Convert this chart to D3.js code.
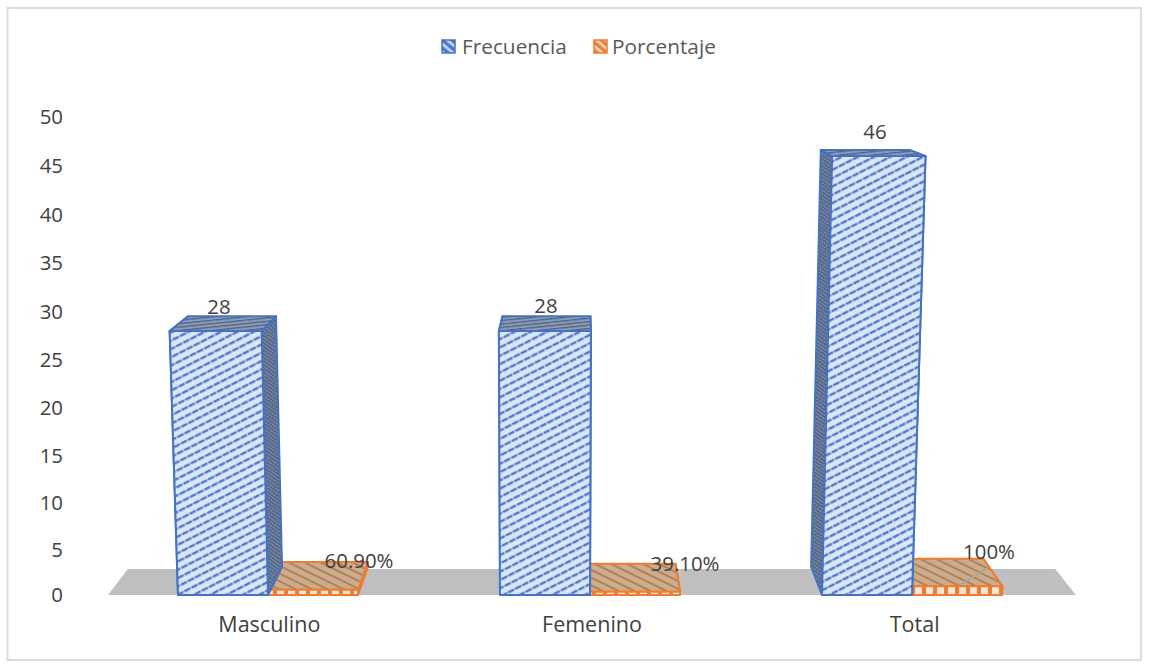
<!DOCTYPE html>
<html>
<head>
<meta charset="utf-8">
<script src="https://cdn.jsdelivr.net/npm/d3@7"></script>
<style>
  html, body { margin: 0; padding: 0; background: #fff; }
  svg { display: block; }
  text { font-family: "Open Sans", sans-serif; font-size: 20.4px; fill: #404040; }
</style>
</head>
<body>
<svg id="chart" width="1149" height="666"></svg>
<script>
const categories = ["Masculino", "Femenino", "Total"];
const seriesNames = ["Frecuencia", "Porcentaje"];
const frecuencia = [28, 28, 46];
const porcentaje = [0.609, 0.391, 1];
const frecuenciaLabels = ["28", "28", "46"];
const porcentajeLabels = ["60.90%", "39.10%", "100%"];
const yTicks = [0, 5, 10, 15, 20, 25, 30, 35, 40, 45, 50];

const svg = d3.select("#chart");
const BLUE = "#4472c4", ORANGE = "#ed7d31";

// Slight power curve stands in for the perspective foreshortening of the 3-D axis
const y = d3.scalePow().exponent(1.024).domain([0, 50]).range([595, 117]);
const axisX = d3.scaleBand().domain(categories).range([108, 1076]);
const groupX = d3.scaleBand().domain(categories).range([107, 1073]);
const barWidth = 90;

// Perspective projection: x on the front plane, h pixels above the floor, d = 0 front .. 1 back
const VANISH_X = 580, LEAN = 8.5e-5;
function project(xBase, h, d) {
  const leaned = xBase + (xBase - 550) * LEAN * h;
  return [
    leaned + (VANISH_X - leaned) * 0.045 * d,
    595 - 28 * d - h * (1 - 0.05 * d)
  ];
}

// Hatch patterns for the bar faces
const defs = svg.append("defs");
function hatch(id, w, h, angle, bg, draw) {
  const p = defs.append("pattern").attr("id", id)
    .attr("patternUnits", "userSpaceOnUse")
    .attr("width", w).attr("height", h)
    .attr("patternTransform", `rotate(${angle})`);
  p.append("rect").attr("width", w).attr("height", h).attr("fill", bg);
  draw(p);
}
hatch("blueFront", 8, 7.4, -27, "#dbe7f9", p => {
  p.append("rect").attr("x", 0).attr("y", 2.6).attr("width", 6.4).attr("height", 2.4).attr("fill", "#4f78c6");
  p.append("rect").attr("x", 6.4).attr("y", 3).attr("width", 1.6).attr("height", 1.4).attr("fill", "#8aa6dc");
});
hatch("blueSide", 3, 3, 35, "#7f8fa8", p => {
  p.append("rect").attr("width", 3).attr("height", 1.3).attr("fill", "#46597c");
  p.append("rect").attr("width", 1).attr("height", 3).attr("fill", "#5b6d90");
});
hatch("blueTop", 6, 3.4, -6, "#8d9cb4", p => {
  p.append("rect").attr("width", 6).attr("height", 1.3).attr("fill", "#4f6288");
});
hatch("orangeTop", 8, 7, 26, "#c9ad92", p => {
  p.append("rect").attr("width", 8).attr("height", 2).attr("fill", "#b9804e");
});
hatch("orangeFront", 11, 8, 0, ORANGE, p => {
  p.append("rect").attr("x", 2).attr("y", 0).attr("width", 7).attr("height", 8).attr("fill", "#fbe5d6");
});
hatch("blueKey", 6, 6, 40, "#4f78c6", p => {
  p.append("rect").attr("width", 6).attr("height", 2.6).attr("fill", "#c9d8f2");
});
hatch("orangeKey", 6, 6, 40, ORANGE, p => {
  p.append("rect").attr("width", 6).attr("height", 2.6).attr("fill", "#fad9c2");
});

// Outer chart frame
svg.append("rect").attr("x", 7.5).attr("y", 8).attr("width", 1133.5).attr("height", 652)
  .attr("fill", "#fff").attr("stroke", "#dcdcdc").attr("stroke-width", 2);

// Floor plane
const floorDepth = 0.93;
const floorLeft = axisX.range()[0], floorRight = axisX.range()[1];
svg.append("polygon").attr("fill", "#bfbfbf").attr("points", [
  project(floorLeft, 0, 0), project(floorRight, 0, 0),
  project(floorRight, 0, floorDepth), project(floorLeft, 0, floorDepth)
].map(p => p.join(",")).join(" "));

// One 3-D bar: hidden faces sit behind the front and top, so only the outward side remains visible
function drawBar(g, x0, value, color, fills) {
  const x1 = x0 + barWidth, h = 595 - y(value);
  const poly = (pts, fill) => g.append("polygon")
    .attr("points", pts.map(p => p.join(",")).join(" "))
    .attr("fill", fill).attr("stroke", color).attr("stroke-width", 2).attr("stroke-linejoin", "round");
  poly([project(x0, 0, 0), project(x0, h, 0), project(x0, h, 1), project(x0, 0, 1)], fills.side);
  poly([project(x1, 0, 0), project(x1, h, 0), project(x1, h, 1), project(x1, 0, 1)], fills.side);
  poly([project(x0, h, 0), project(x1, h, 0), project(x1, h, 1), project(x0, h, 1)], fills.top);
  poly([project(x0, 0, 0), project(x1, 0, 0), project(x1, h, 0), project(x0, h, 0)], fills.front);
}

// Percentage bars go first: the taller frequency bars stand in front of their inner edge
const bars = svg.append("g");
categories.forEach((c, i) => {
  const base = groupX(c) + groupX.bandwidth() / 2;
  const g = bars.append("g");
  drawBar(g, base, porcentaje[i], ORANGE,
    { side: "url(#orangeTop)", top: "url(#orangeTop)", front: "url(#orangeFront)" });
  drawBar(g, base - barWidth, frecuencia[i], BLUE,
    { side: "url(#blueSide)", top: "url(#blueTop)", front: "url(#blueFront)" });
});

// Value axis labels
svg.append("g").selectAll("text").data(yTicks).join("text")
  .attr("x", 63).attr("y", d => y(d)).attr("dy", "0.35em")
  .attr("text-anchor", "end").text(d => d);

// Category axis labels
svg.append("g").selectAll("text").data(categories).join("text")
  .attr("x", d => axisX(d) + axisX.bandwidth() / 2).attr("y", 632)
  .attr("text-anchor", "middle").style("font-size", "21.5px").text(d => d);

// Leader line from the last percentage label to its bar
const totalBase = groupX("Total") + groupX.bandwidth() / 2;
svg.append("line")
  .attr("x1", totalBase + 76).attr("y1", 568)
  .attr("x2", totalBase + 48).attr("y2", 585)
  .attr("stroke", "#a6a6a6").attr("stroke-width", 2);

// Data labels, placed relative to each bar's projected top
const blueLabelX = [-49, -44, -37], blueLabelGap = [24, 25, 24];
const pctLabelX = [91, 95, 77], pctLabelGap = [29, 27.5, 34];
categories.forEach((c, i) => {
  const base = groupX(c) + groupX.bandwidth() / 2;
  svg.append("text").attr("x", base + blueLabelX[i]).attr("y", y(frecuencia[i]) - blueLabelGap[i])
    .attr("dy", "0.35em").attr("text-anchor", "middle").text(frecuenciaLabels[i]);
  svg.append("text").attr("x", base + pctLabelX[i]).attr("y", y(porcentaje[i]) - pctLabelGap[i])
    .attr("dy", "0.35em").attr("text-anchor", "middle").text(porcentajeLabels[i]);
});

// Legend
const legendKeys = [
  { name: seriesNames[0], sx: 442, tx: 462, fill: "url(#blueKey)", color: BLUE },
  { name: seriesNames[1], sx: 594, tx: 612, fill: "url(#orangeKey)", color: ORANGE }
];
const legend = svg.append("g");
legendKeys.forEach(k => {
  legend.append("rect").attr("x", k.sx).attr("y", 40).attr("width", 13).attr("height", 13)
    .attr("fill", k.fill).attr("stroke", k.color).attr("stroke-width", 1.5);
  legend.append("text").attr("x", k.tx).attr("y", 47).attr("dy", "0.35em")
    .style("font-size", "20.8px").style("fill", "#595959").text(k.name);
});
</script>
</body>
</html>
